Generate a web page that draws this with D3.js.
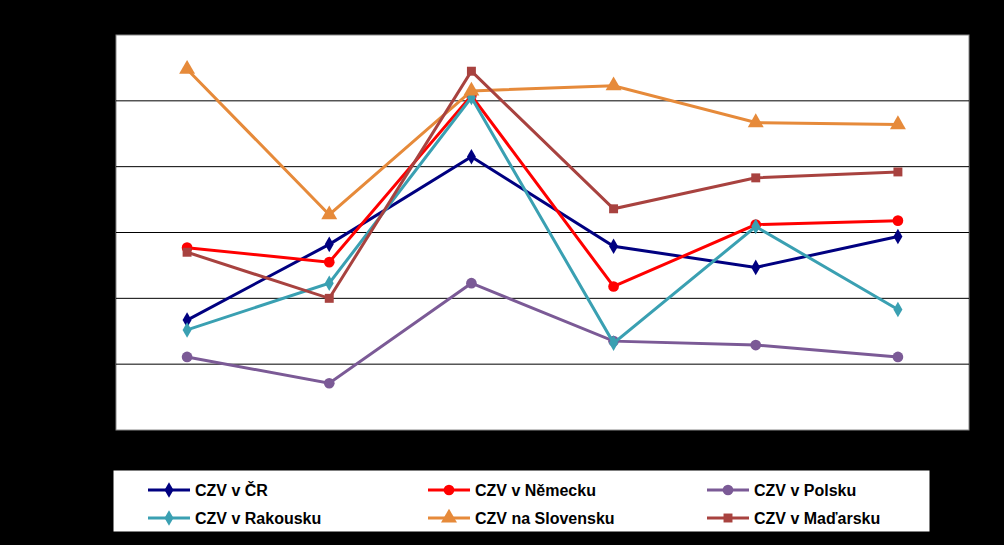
<!DOCTYPE html>
<html><head><meta charset="utf-8">
<script src="https://cdn.jsdelivr.net/npm/d3@7"></script>
<style>body{margin:0;background:#000}</style></head>
<body><svg id="c" width="1004" height="545"></svg>
<script>
const categories = ["2006","2007","2008","2009","2010","2011"];
const seriesNames = ["CZV v ČR","CZV v Německu","CZV v Polsku","CZV v Rakousku","CZV na Slovensku","CZV v Maďarsku"];
const cr = [1.67,2.82,4.15,2.79,2.47,2.94];
const de = [2.77,2.55,5.08,2.18,3.12,3.18];
const pl = [1.11,0.71,2.23,1.35,1.29,1.11];
const at = [1.52,2.23,5.05,1.32,3.09,1.83];
const sk = [5.48,3.27,5.15,5.23,4.67,4.64];
const hu = [2.70,2.00,5.45,3.36,3.83,3.92];
const yTicks = [0,1,2,3,4,5,6];

const series = [cr,de,pl,at,sk,hu];
const colors = ["#000080","#FF0000","#7B5A96","#3AA0B2","#E68A3A","#A8423F"];
const shapes = [d3.symbolDiamond,d3.symbolCircle,d3.symbolCircle,d3.symbolDiamond,d3.symbolTriangle,d3.symbolSquare];
const sizes = [70,90,90,70,110,80];

const svg = d3.select("#c");
svg.append("rect").attr("width",1004).attr("height",545).attr("fill","#000");
const L=116,R=969,T=35,B=430;
svg.append("rect").attr("x",L).attr("y",T).attr("width",R-L).attr("height",B-T).attr("fill","#fff").attr("stroke","#888");
const x = d3.scaleBand().domain(categories).range([L,R]);
const y = d3.scaleLinear().domain([0,6]).range([B,T]);
yTicks.slice(1,-1).forEach(t=>svg.append("line").attr("x1",L).attr("x2",R).attr("y1",y(t)).attr("y2",y(t)).attr("stroke","#000"));
svg.append("g").attr("transform",`translate(0,${B})`).call(d3.axisBottom(x).tickSize(0)).call(g=>g.select(".domain").remove()).selectAll("text").attr("fill","#000");
svg.append("g").attr("transform",`translate(${L},0)`).call(d3.axisLeft(y).tickValues(yTicks).tickSize(0)).call(g=>g.select(".domain").remove()).selectAll("text").attr("fill","#000");
const cx = c=>x(c)+x.bandwidth()/2;
const line = d3.line().x((d,i)=>cx(categories[i])).y(d=>y(d));
series.forEach((s,k)=>{
  svg.append("path").attr("d",line(s)).attr("fill","none").attr("stroke",colors[k]).attr("stroke-width",3);
  s.forEach((v,i)=>svg.append("path").attr("d",d3.symbol(shapes[k],sizes[k])()).attr("transform",`translate(${cx(categories[i])},${y(v)})`).attr("fill",colors[k]));
});
// legend
svg.append("rect").attr("x",113).attr("y",470).attr("width",817).attr("height",62).attr("fill","#fff").attr("stroke","#000");
const colX=[148,428,707], rowY=[490,518];
seriesNames.forEach((n,k)=>{
  const lx=colX[k%3], ly=rowY[Math.floor(k/3)];
  svg.append("line").attr("x1",lx).attr("x2",lx+42).attr("y1",ly).attr("y2",ly).attr("stroke",colors[k]).attr("stroke-width",3);
  svg.append("path").attr("d",d3.symbol(shapes[k],sizes[k])()).attr("transform",`translate(${lx+21},${ly})`).attr("fill",colors[k]);
  svg.append("text").attr("x",lx+47).attr("y",ly+6).text(n).attr("font-family","Liberation Sans, Arial").attr("font-weight","bold").attr("font-size",16).attr("fill","#000");
});
</script></body></html>
